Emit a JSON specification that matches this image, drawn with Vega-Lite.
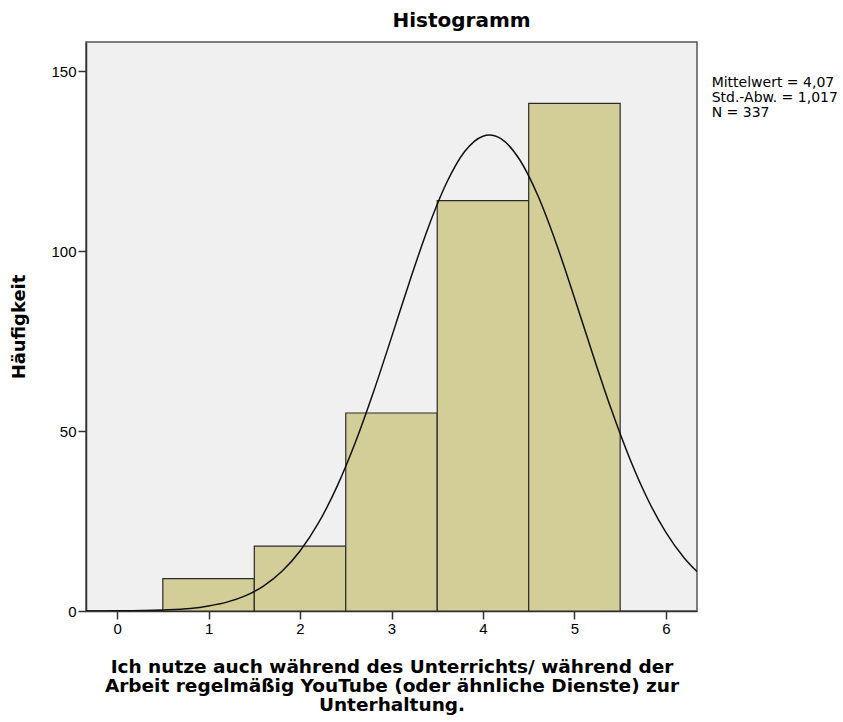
{
  "$schema": "https://vega.github.io/schema/vega-lite/v6.json",
  "width": 611,
  "height": 569,
  "autosize": {"type": "none"},
  "padding": {"left": 86, "top": 42, "right": 146, "bottom": 111},
  "background": "white",
  "config": {
    "font": "DejaVu Sans",
    "view": {"fill": "#f0f0f0", "stroke": "#555555", "strokeWidth": 1.5}
  },
  "title": {
    "text": "Histogramm",
    "font": "DejaVu Sans",
    "fontSize": 20,
    "fontWeight": "bold",
    "color": "#000000",
    "anchor": "middle",
    "dx": 70,
    "offset": 11
  },
  "encoding": {
    "x": {
      "field": "x",
      "type": "quantitative",
      "scale": {"domain": [-0.34, 6.34], "nice": false, "zero": false},
      "axis": {
        "title": ["Ich nutze auch während des Unterrichts/ während der", "Arbeit regelmäßig YouTube (oder ähnliche Dienste) zur", "Unterhaltung."],
        "titleFont": "DejaVu Sans",
        "titleFontSize": 18.5,
        "titleFontWeight": "bold",
        "titleColor": "#000000",
        "titleLineHeight": 19,
        "titlePadding": 21,
        "values": [0, 1, 2, 3, 4, 5, 6],
        "format": "d",
        "grid": false,
        "domainColor": "#333333",
        "domainWidth": 1.5,
        "tickColor": "#333333",
        "tickSize": 8,
        "tickWidth": 1.5,
        "labelFont": "Liberation Sans",
        "labelFontSize": 15,
        "labelColor": "#000000",
        "labelPadding": 2
      }
    },
    "y": {
      "field": "y",
      "type": "quantitative",
      "scale": {"domain": [0, 158.06], "nice": false},
      "axis": {
        "title": "Häufigkeit",
        "titleFont": "DejaVu Sans",
        "titleFontSize": 18,
        "titleFontWeight": "bold",
        "titleColor": "#000000",
        "titlePadding": 22,
        "values": [0, 50, 100, 150],
        "grid": false,
        "domainColor": "#333333",
        "domainWidth": 1.5,
        "tickColor": "#333333",
        "tickSize": 8,
        "tickWidth": 1.5,
        "labelFont": "Liberation Sans",
        "labelFontSize": 15,
        "labelColor": "#000000",
        "labelPadding": 2
      }
    }
  },
  "layer": [
    {
      "data": {
        "values": [
          {"x": 0.5, "x2": 1.5, "y": 9},
          {"x": 1.5, "x2": 2.5, "y": 18},
          {"x": 2.5, "x2": 3.5, "y": 55},
          {"x": 3.5, "x2": 4.5, "y": 114},
          {"x": 4.5, "x2": 5.5, "y": 141}
        ]
      },
      "mark": {"type": "rect", "fill": "#d3ce97", "stroke": "#2b2b2b", "strokeWidth": 1.2},
      "encoding": {
        "x2": {"field": "x2"},
        "y2": {"datum": 0}
      }
    },
    {
      "data": {
        "values": [
          {"x": -0.34, "y": 0.011},
          {"x": 0, "y": 0.044},
          {"x": 0.5, "y": 0.279},
          {"x": 0.8, "y": 0.68},
          {"x": 1.0, "y": 1.388},
          {"x": 1.2, "y": 2.466},
          {"x": 1.4, "y": 4.212},
          {"x": 1.6, "y": 6.923},
          {"x": 1.8, "y": 10.95},
          {"x": 2.0, "y": 16.66},
          {"x": 2.2, "y": 24.38},
          {"x": 2.4, "y": 34.33},
          {"x": 2.6, "y": 46.51},
          {"x": 2.8, "y": 60.62},
          {"x": 3.0, "y": 76.01},
          {"x": 3.2, "y": 91.69},
          {"x": 3.4, "y": 106.41},
          {"x": 3.6, "y": 118.81},
          {"x": 3.8, "y": 127.62},
          {"x": 4.0, "y": 131.89},
          {"x": 4.07, "y": 132.2},
          {"x": 4.2, "y": 131.12},
          {"x": 4.4, "y": 125.42},
          {"x": 4.6, "y": 115.41},
          {"x": 4.8, "y": 102.18},
          {"x": 5.0, "y": 87.03},
          {"x": 5.2, "y": 71.31},
          {"x": 5.4, "y": 56.22},
          {"x": 5.6, "y": 42.64},
          {"x": 5.8, "y": 31.11},
          {"x": 6.0, "y": 21.84},
          {"x": 6.2, "y": 14.75},
          {"x": 6.34, "y": 10.95}
        ]
      },
      "mark": {"type": "line", "color": "#111111", "strokeWidth": 1.5, "interpolate": "monotone", "clip": true},
      "encoding": {
        "order": {"field": "x", "type": "quantitative"}
      }
    },
    {
      "data": {
        "values": [
          {"x": 6.5, "y": 146.7, "label": "Mittelwert = 4,07"},
          {"x": 6.5, "y": 142.5, "label": "Std.-Abw. = 1,017"},
          {"x": 6.5, "y": 138.3, "label": "N = 337"}
        ]
      },
      "mark": {"type": "text", "align": "left", "baseline": "middle", "fontSize": 14, "font": "DejaVu Sans", "color": "#000000"},
      "encoding": {
        "text": {"field": "label"}
      }
    }
  ]
}
